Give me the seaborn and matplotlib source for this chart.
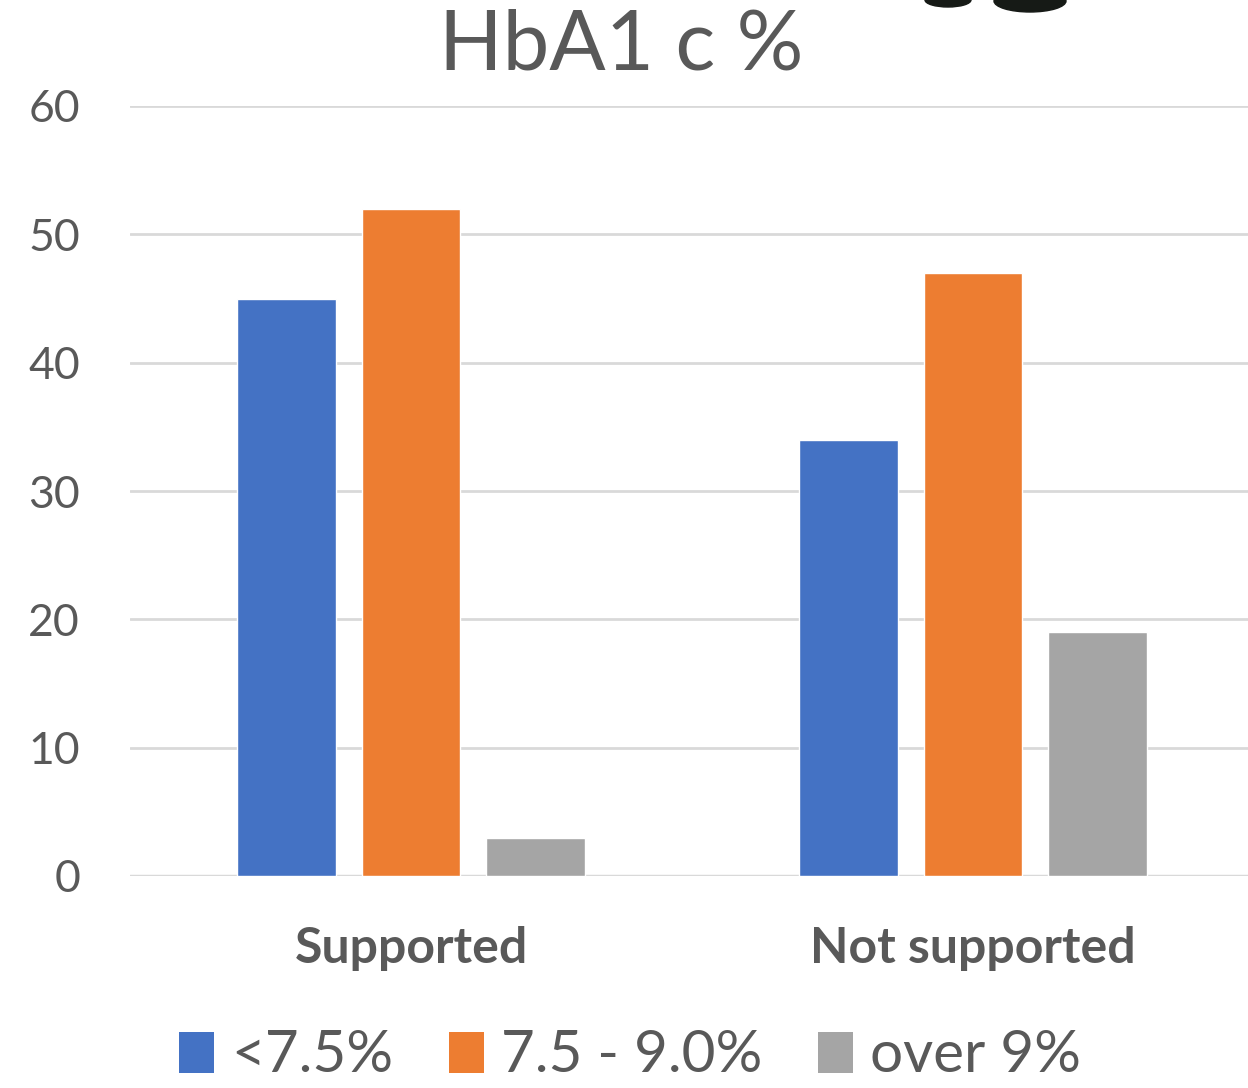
import matplotlib
matplotlib.use("Agg")
import matplotlib.pyplot as plt
from matplotlib.patches import Ellipse, Patch
import seaborn as sns
import pandas as pd

# HbA1c distribution by support status
groups = ["Supported", "Not supported"]
levels = ["<7.5%", "7.5 - 9.0%", "over 9%"]
supported = [45, 52, 3]
not_supported = [34, 47, 19]
y_ticks = [0, 10, 20, 30, 40, 50, 60]
colors = ["#4472C4", "#ED7D31", "#A5A5A5"]

df = pd.DataFrame({
    "group": [groups[0]] * 3 + [groups[1]] * 3,
    "level": levels * 2,
    "value": supported + not_supported,
})

sns.set_theme(style="white")
plt.rcParams["font.family"] = ["Lato", "DejaVu Sans"]
text_color = "#595959"

W, H = 1248, 1088
fig = plt.figure(figsize=(W / 100, H / 100), dpi=100)
ax = fig.add_axes([130 / W, (H - 876) / H, 1124 / W, 770 / H])

sns.barplot(data=df, x="group", y="value", hue="level", order=groups,
            hue_order=levels, palette=colors, width=0.665, gap=0.21,
            saturation=1, ax=ax, legend=False)

ax.set_ylim(0, 60)
ax.set_yticks(y_ticks)
ax.set_xlim(-0.5, 1.5)
ax.yaxis.grid(True, color="#D9D9D9", linewidth=2)
ax.set_axisbelow(True)
for s in ax.spines.values():
    s.set_visible(False)
ax.axhline(0, color="#D9D9D9", linewidth=2.5, zorder=0.5)
ax.set_xlabel("")
ax.set_ylabel("")
ax.tick_params(axis="y", length=0, pad=36, labelsize=32, labelcolor=text_color)
ax.tick_params(axis="x", length=0, pad=36, labelsize=36, labelcolor=text_color)
for lab in ax.get_xticklabels():
    lab.set_fontweight("bold")

fig.text(621 / W, 1 - 47 / H, "HbA1 c %", ha="center", va="center",
         fontsize=60, color=text_color)

handles = [Patch(facecolor=c, edgecolor="none") for c in colors]
fig.legend(handles, levels, loc="center", bbox_to_anchor=(630 / W, 1 - 1056 / H),
           ncol=3, frameon=False, fontsize=42, labelcolor=text_color,
           handlelength=0.6, handleheight=0.7, handletextpad=0.3,
           columnspacing=0.95, borderpad=0.1)

# ink marks along the top edge
fig.patches.append(Ellipse((948 / W, 1 - 0 / H), 46 / W, 14 / H,
                           transform=fig.transFigure, color="#161a16"))
fig.patches.append(Ellipse((1030 / W, 1 - 1 / H), 72 / W, 22 / H,
                           transform=fig.transFigure, color="#161a16"))

fig.savefig("out.png", dpi=100)
